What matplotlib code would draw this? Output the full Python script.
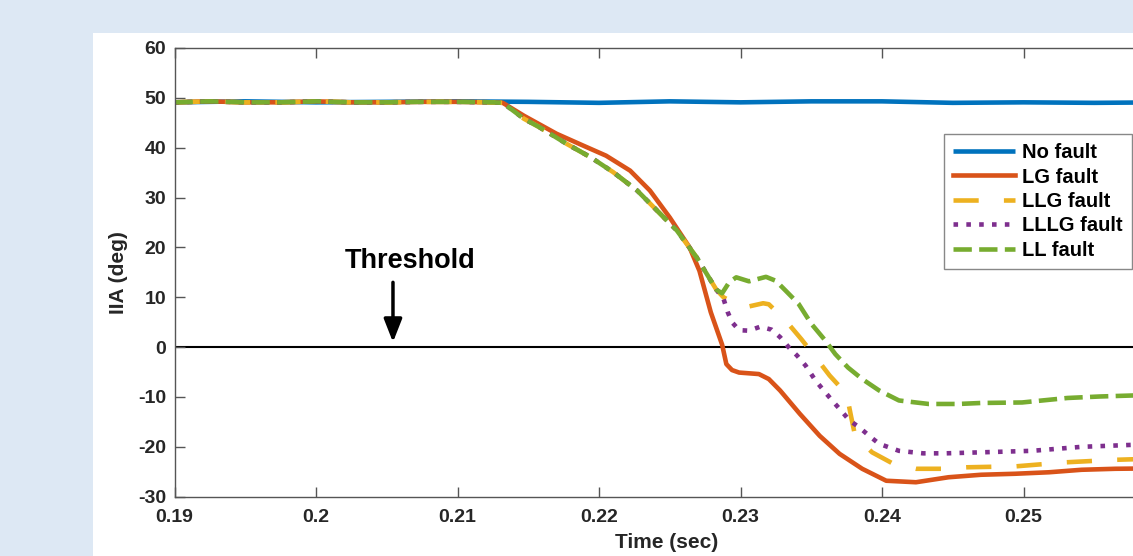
import matplotlib
matplotlib.use("Agg")
import matplotlib.pyplot as plt
from matplotlib.patches import Rectangle

plt.rcParams['font.family'] = ['Liberation Sans', 'DejaVu Sans']
plt.rcParams['font.weight'] = 'bold'

# ---------------- data ----------------
x_ticks = [0.19, 0.20, 0.21, 0.22, 0.23, 0.24, 0.25]
x_tick_labels = ['0.19', '0.2', '0.21', '0.22', '0.23', '0.24', '0.25']
y_ticks = [-30, -20, -10, 0, 10, 20, 30, 40, 50, 60]
y_tick_labels = ['-30', '-20', '-10', '0', '10', '20', '30', '40', '50', '60']

series_names = ['No fault', 'LG fault', 'LLG fault', 'LLLG fault', 'LL fault']

t_nofault = [0.190, 0.195, 0.200, 0.205, 0.210, 0.215, 0.220, 0.225, 0.230,
             0.235, 0.240, 0.245, 0.250, 0.255, 0.260]
v_nofault = [49.1, 49.3, 49.1, 49.2, 49.3, 49.2, 49.0, 49.3, 49.1,
             49.3, 49.3, 49.0, 49.1, 49.0, 49.1]

# pre-fault part shared by all fault cases
t_pre = [0.190, 0.1925, 0.195, 0.1975, 0.200, 0.2025, 0.205, 0.2075, 0.210, 0.2125]
v_pre = [49.1, 49.3, 49.1, 49.1, 49.3, 49.1, 49.1, 49.2, 49.2, 49.1]

# descending part shared by LLG, LLLG and LL
t_drop = [0.2132, 0.2147, 0.2158, 0.2177, 0.2194, 0.2210, 0.2227, 0.2241,
          0.2255, 0.2269, 0.2283]
v_drop = [49.0, 45.8, 44.1, 40.8, 38.1, 35.1, 31.4, 27.4, 23.4, 18.0, 11.5]

t_lg = [0.2132, 0.2147, 0.2170, 0.2189, 0.2205, 0.2222, 0.2236, 0.2250, 0.2264,
        0.2271, 0.2279, 0.2287, 0.2290, 0.2294, 0.2299, 0.2313, 0.2320, 0.2328,
        0.2342, 0.2356, 0.2370, 0.2386, 0.2403, 0.2424, 0.2447, 0.2470, 0.2494,
        0.2518, 0.2541, 0.2565, 0.2600]
v_lg = [49.0, 46.4, 42.8, 40.4, 38.4, 35.4, 31.4, 26.0, 20.0,
        15.3, 7.0, 0.5, -3.4, -4.6, -5.1, -5.4, -6.4, -8.7,
        -13.4, -17.8, -21.4, -24.4, -26.8, -27.1, -26.1, -25.6, -25.4,
        -25.1, -24.6, -24.4, -24.3]

t_llg = [0.2288, 0.2299, 0.2305, 0.2316, 0.2320, 0.2332, 0.2343, 0.2353, 0.2363,
         0.2375, 0.2378, 0.2381, 0.2393, 0.2408, 0.2424, 0.2442, 0.2460, 0.2495,
         0.2530, 0.2565, 0.2600]
v_llg = [10.0, 8.3, 8.1, 8.8, 8.6, 5.3, 1.6, -2.0, -5.7,
         -9.4, -13.7, -17.8, -21.1, -23.4, -24.4, -24.4, -24.1, -23.9,
         -23.1, -22.6, -22.3]

t_lllg = [0.2288, 0.2291, 0.2294, 0.2299, 0.2306, 0.2314, 0.2322, 0.2328, 0.2334,
          0.2340, 0.2346, 0.2353, 0.2360, 0.2366, 0.2371, 0.2377, 0.2384, 0.2391,
          0.2398, 0.2412, 0.2429, 0.2445, 0.2470, 0.2506, 0.2541, 0.2577, 0.2600]
v_lllg = [9.7, 7.0, 5.0, 3.4, 3.3, 4.1, 3.5, 2.0, 0.0,
          -1.7, -3.7, -6.7, -9.1, -11.1, -12.7, -14.7, -16.1, -17.8,
          -19.4, -20.8, -21.3, -21.3, -21.1, -20.8, -20.0, -19.6, -19.4]

t_ll = [0.2287, 0.2292, 0.2297, 0.2306, 0.2318, 0.2325, 0.2332, 0.2341, 0.2350,
        0.2360, 0.2367, 0.2376, 0.2386, 0.2398, 0.2412, 0.2433, 0.2454, 0.2470,
        0.2499, 0.2531, 0.2554, 0.2577, 0.2600]
v_ll = [10.8, 13.0, 14.0, 13.2, 14.1, 13.3, 11.3, 8.7, 4.7,
        1.3, -1.4, -4.1, -6.4, -8.7, -10.7, -11.4, -11.4, -11.2,
        -11.1, -10.2, -9.9, -9.7, -9.6]

threshold_value = 0.0
threshold_label = 'Threshold'
threshold_x = 0.20544

colors = ['#0072BD', '#D95319', '#EDB120', '#7E2F8E', '#77AC30']

# ---------------- figure ----------------
W, H = 1133, 556
fig = plt.figure(figsize=(W / 100, H / 100), dpi=100)
fig.patch.set_facecolor('#dde8f4')
fig.patches.append(Rectangle((93 / W, 0), 1.0, (H - 33) / H, transform=fig.transFigure,
                             facecolor='white', edgecolor='none', zorder=-5))

ax_l, ax_r, ax_t, ax_b = 174.5, 1165.0, 48.0, 496.7
ax = fig.add_axes([ax_l / W, (H - ax_b) / H, (ax_r - ax_l) / W, (ax_b - ax_t) / H])
ax.set_zorder(1)
ax.set_facecolor('white')

lw = 3.3
ax.plot(t_nofault, v_nofault, color=colors[0], lw=lw, solid_capstyle='butt', label=series_names[0])
ax.plot(t_pre + t_lg, v_pre + v_lg, color=colors[1], lw=lw, label=series_names[1])
l3, = ax.plot(t_pre + t_drop + t_llg, v_pre + v_drop + v_llg, color=colors[2], lw=lw,
              label=series_names[2], dash_capstyle='butt')
l3.set_dashes([5.5, 5.5])
l4, = ax.plot(t_pre + t_drop + t_lllg, v_pre + v_drop + v_lllg, color=colors[3], lw=lw,
              label=series_names[3], dash_capstyle='butt')
l4.set_dashes([1, 1.8])
l5, = ax.plot(t_pre + t_drop + t_ll, v_pre + v_drop + v_ll, color=colors[4], lw=lw,
              label=series_names[4], dash_capstyle='butt')
l5.set_dashes([4.0, 1.6])

ax.axhline(threshold_value, color='black', lw=1.5, zorder=1)

ax.annotate('', xy=(threshold_x, threshold_value + 1.0), xytext=(threshold_x, 13.0),
            arrowprops=dict(arrowstyle='-|>,head_length=1.4,head_width=0.55',
                            color='black', lw=2.5, mutation_scale=10, shrinkA=0, shrinkB=0))
ax.text(0.20664, 17.35, threshold_label, fontsize=19.5, fontweight='bold',
        ha='center', va='center', color='black')

ax.set_xlim(0.19, 0.26)
ax.set_ylim(-30, 60)
ax.set_xticks(x_ticks)
ax.set_xticklabels(x_tick_labels)
ax.set_yticks(y_ticks)
ax.set_yticklabels(y_tick_labels)
ax.tick_params(direction='in', length=7, width=1, colors='#555555', labelcolor='#262626',
               labelsize=14, top=True, right=True)
ax.tick_params(axis='x', pad=8.5)
ax.tick_params(axis='y', pad=6)
for lab in ax.get_xticklabels() + ax.get_yticklabels():
    lab.set_fontweight('bold')
for s in ax.spines.values():
    s.set_color('#555555')
    s.set_linewidth(1.0)

fig.text(667 / W, 1 - 543 / H, 'Time (sec)', fontsize=15, fontweight='bold',
         ha='center', va='center', color='#262626')
fig.text(119 / W, 1 - 272.5 / H, 'IIA (deg)', fontsize=15, fontweight='bold',
         ha='center', va='center', rotation=90, color='#262626')

leg = ax.legend(loc='upper left', bbox_to_anchor=(944 / W, 1 - 134 / H),
                bbox_transform=fig.transFigure, borderaxespad=0, frameon=True,
                fancybox=False, framealpha=1, edgecolor='#888888',
                prop={'size': 14.5, 'weight': 'bold'}, handlelength=3.1,
                handletextpad=0.33, labelspacing=0.27, borderpad=0.45)
leg.get_frame().set_linewidth(1.0)

fig.savefig('out.png', dpi=100, facecolor=fig.get_facecolor())
